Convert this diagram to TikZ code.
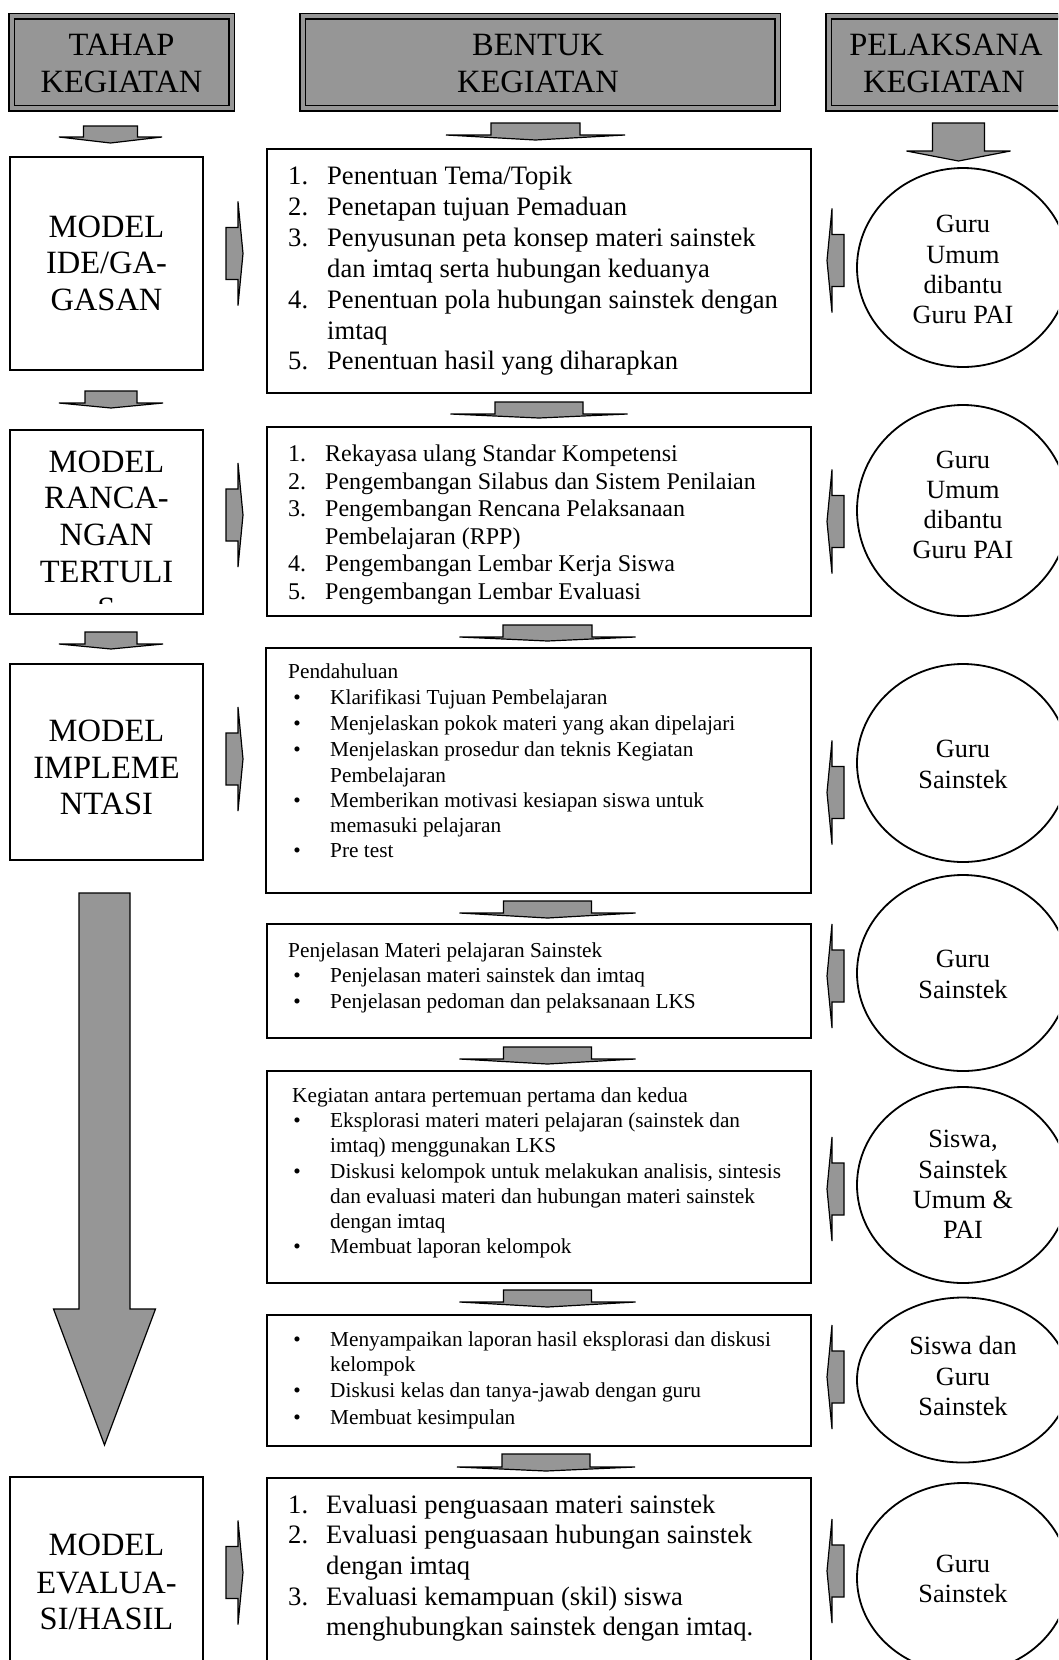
\documentclass[tikz,border=0pt]{standalone}
\usepackage{fontspec}
\setmainfont{Liberation Serif}
\usetikzlibrary{shapes.geometric}
\definecolor{fillgray}{RGB}{150,150,150}

\begin{document}
\begin{tikzpicture}[x=1pt,y=-1pt,
box/.style={draw,line width=1.6pt,inner sep=0pt},
head/.style={draw,line width=1.5pt,double=fillgray,double distance=4pt,fill=fillgray,inner sep=0pt},
circ/.style={draw,line width=1.8pt,ellipse,inner sep=0pt,minimum width=212pt},
ln/.style={anchor=base west,inner sep=0pt},
mid/.style={anchor=base,inner sep=0pt},
hfont/.style={font=\fontsize{32.5}{37}\selectfont},
afont/.style={font=\fontsize{26.6}{30}\selectfont},
bfont/.style={font=\fontsize{24}{27}\selectfont},
cfont/.style={font=\fontsize{21.3}{25}\selectfont},
rfont/.style={font=\fontsize{26.3}{30}\selectfont},
blk/.style={draw,line width=1.2pt,fill=fillgray},
pics/darr/.style args={#1/#2/#3/#4}{code={
\draw[blk] (-#1,0) -- (#1,0) -- (#1,#2) -- (#3,#2) -- (0,#2+#4) -- (-#3,#2) -- (-#1,#2) -- cycle;}},
pics/rarr/.style={code={
\draw[blk] (-12,-26) -- (0,-26) -- (0,-52) -- (5,0) -- (0,52) -- (0,26) -- (-12,26) -- cycle;}}]
\useasboundingbox (0,0) rectangle (1058,1660);
\clip (0,0) rectangle (1058,1660);

\node[head,minimum width=220pt,minimum height=92pt] (h1) at (121.5,62.2) {};
\node[head,minimum width=475pt,minimum height=92pt] (h2) at (540,62.2) {};
\node[head,minimum width=262pt,minimum height=92pt] (h3) at (959.5,62.2) {};
\node[mid,hfont] (h1a) at (121.5,55) {TAHAP};
\node[mid,hfont] (h1b) at (121.5,92) {KEGIATAN};
\node[mid,hfont] (h2a) at (538,55) {BENTUK};
\node[mid,hfont] (h2b) at (538,92) {KEGIATAN};
\node[mid,hfont] (h3a) at (946,55) {PELAKSANA};
\node[mid,hfont] (h3b) at (944,92) {KEGIATAN};

\pic at (110.5,126) {darr={27/11/51.5/6}};
\pic at (535.5,123) {darr={44.5/12/89.5/5}};
\pic at (958.5,123) {darr={26/28/52/10}};

\node[box,minimum width=193pt,minimum height=213pt] (m1) at (106.5,263.5) {};
\node[box,minimum width=193pt,minimum height=184pt] (m2) at (106.5,522) {};
\node[box,minimum width=193pt,minimum height=196pt] (m3) at (106.5,762) {};
\node[box,minimum width=193pt,minimum height=240pt] (m4) at (106.5,1597) {};
\foreach \y/\t [count=\i] in {237/MODEL,273/{IDE/GA-},310/GASAN}
  \node[mid,hfont] (m1t\i) at (106.5,\y) {\t};
\begin{scope}
\clip (10,432) rectangle (203,603);
\foreach \y/\t [count=\i] in {472/MODEL,508/RANCA-,545/NGAN,582/TERTULI,619/S}
  \node[mid,hfont] (m2t\i) at (106.5,\y) {\t};
\end{scope}
\foreach \y/\t [count=\i] in {741/MODEL,778/IMPLEME,814/NTASI}
  \node[mid,hfont] (m3t\i) at (106.5,\y) {\t};
\foreach \y/\t [count=\i] in {1555/MODEL,1593/EVALUA-,1629/{SI/HASIL}}
  \node[mid,hfont] (m4t\i) at (106.5,\y) {\t};

\pic at (111,391) {darr={26/12/52/5}};
\pic at (111,632) {darr={26/12/52/5}};
\pic at (104.5,893) {darr={25.5/416/51/136}};

\pic at (238,253.5) {rarr};
\pic at (238,515) {rarr};
\pic at (238,759) {rarr};
\pic at (238,1572.5) {rarr};

\node[box,minimum width=544pt,minimum height=244pt] (b1) at (539,271) {};
\node[box,minimum width=544pt,minimum height=189pt] (b2) at (539,521.5) {};
\node[box,minimum width=545pt,minimum height=245pt] (b3) at (538.5,770.5) {};
\node[box,minimum width=544pt,minimum height=114pt] (b4) at (539,981) {};
\node[box,minimum width=544pt,minimum height=212pt] (b5) at (539,1177) {};
\node[box,minimum width=544pt,minimum height=131pt] (b6) at (539,1380.5) {};
\node[box,minimum width=544pt,minimum height=240pt] (b7) at (539,1598) {};

\pic at (539,402) {darr={44/12/88.5/4}};
\pic at (547.5,625) {darr={44.5/12/88/4}};
\pic at (547.5,901) {darr={44/12/88/5}};
\pic at (547.5,1047) {darr={44/12/88/5}};
\pic at (547.5,1290) {darr={44/12/88/5}};
\pic at (546,1454) {darr={44/13/89/4}};

\foreach \y/\n [count=\i] in {184/1,215/2,246/3,308/4,369.5/5}
  \node[ln,afont] (b1n\i) at (288,\y) {\n.};
\foreach \y/\t [count=\i] in {184/{Penentuan Tema/Topik},215/{Penetapan tujuan Pemaduan},
  246/{Penyusunan peta konsep materi sainstek},277/{dan imtaq serta hubungan keduanya},
  308/{Penentuan pola hubungan sainstek dengan},339/{imtaq},369.5/{Penentuan hasil yang diharapkan}}
  \node[ln,afont] (b1t\i) at (327,\y) {\t};

\foreach \y/\n [count=\i] in {461.5/1,489/2,516.5/3,571.5/4,599/5}
  \node[ln,bfont] (b2n\i) at (288,\y) {\n.};
\foreach \y/\t [count=\i] in {461.5/{Rekayasa ulang Standar Kompetensi},489/{Pengembangan Silabus dan Sistem Penilaian},
  516.5/{Pengembangan Rencana Pelaksanaan},544/{Pembelajaran (RPP)},
  571.5/{Pengembangan Lembar Kerja Siswa},599/{Pengembangan Lembar Evaluasi}}
  \node[ln,bfont] (b2t\i) at (325,\y) {\t};

\node[ln,cfont] (b3h) at (288,678) {Pendahuluan};
\foreach \y [count=\i] in {704,730,756,807,857}
  \node[mid,cfont] (b3d\i) at (297,\y) {•};
\foreach \y/\t [count=\i] in {704/{Klarifikasi Tujuan Pembelajaran},730/{Menjelaskan pokok materi yang akan dipelajari},
  756/{Menjelaskan prosedur dan teknis Kegiatan},782/{Pembelajaran},
  807/{Memberikan motivasi kesiapan siswa untuk},832/{memasuki pelajaran},857/{Pre test}}
  \node[ln,cfont] (b3t\i) at (330,\y) {\t};

\node[ln,cfont] (b4h) at (288,957) {Penjelasan Materi pelajaran Sainstek};
\foreach \y/\t [count=\i] in {982/{Penjelasan materi sainstek dan imtaq},1008/{Penjelasan pedoman dan pelaksanaan LKS}}{
  \node[mid,cfont] (b4d\i) at (297,\y) {•};
  \node[ln,cfont] (b4t\i) at (330,\y) {\t};}

\node[ln,cfont] (b5h) at (292,1102) {Kegiatan antara pertemuan pertama dan kedua};
\foreach \y [count=\i] in {1127,1178,1253}
  \node[mid,cfont] (b5d\i) at (297,\y) {•};
\foreach \y/\t [count=\i] in {1127/{Eksplorasi materi materi pelajaran (sainstek dan},1152/{imtaq) menggunakan LKS},
  1178/{Diskusi kelompok untuk melakukan analisis, sintesis},1203/{dan evaluasi materi dan hubungan materi sainstek},
  1228/{dengan imtaq},1253/{Membuat laporan kelompok}}
  \node[ln,cfont] (b5t\i) at (330,\y) {\t};

\foreach \y [count=\i] in {1346,1397,1424}
  \node[mid,cfont] (b6d\i) at (297,\y) {•};
\foreach \y/\t [count=\i] in {1346/{Menyampaikan laporan hasil eksplorasi dan diskusi},1371/{kelompok},
  1397/{Diskusi kelas dan tanya-jawab dengan guru},1424/{Membuat kesimpulan}}
  \node[ln,cfont] (b6t\i) at (330,\y) {\t};

\foreach \y/\n [count=\i] in {1513/1,1543.7/2,1605/3}
  \node[ln,afont] (b7n\i) at (288,\y) {\n.};
\foreach \y/\t [count=\i] in {1513/{Evaluasi penguasaan materi sainstek},1543.7/{Evaluasi penguasaan hubungan sainstek},
  1574.4/{dengan imtaq},1605/{Evaluasi kemampuan (skil) siswa},1635.8/{menghubungkan sainstek dengan imtaq.}}
  \node[ln,afont] (b7t\i) at (326,\y) {\t};

\pic[xscale=-1] at (832,260.5) {rarr};
\pic[xscale=-1] at (832,521.5) {rarr};
\pic[xscale=-1] at (832,792.5) {rarr};
\pic[xscale=-1] at (832,976) {rarr};
\pic[xscale=-1] at (832,1189) {rarr};
\pic[xscale=-1] at (832,1377) {rarr};
\pic[xscale=-1] at (832,1571) {rarr};

\node[circ,minimum height=199pt] (c1) at (963,267.5) {};
\node[circ,minimum height=211pt] (c2) at (963,510.5) {};
\node[circ,minimum height=198pt] (c3) at (963,763) {};
\node[circ,minimum height=196pt] (c4) at (963,973) {};
\node[circ,minimum height=196pt] (c5) at (963,1185) {};
\node[circ,minimum height=165pt] (c6) at (963,1380) {};
\node[circ,minimum height=190pt] (c7) at (963,1578) {};
\foreach \y/\t [count=\i] in {232/Guru,263/Umum,293/dibantu,323/Guru PAI}
  \node[mid,rfont] (c1t\i) at (963,\y) {\t};
\foreach \y/\t [count=\i] in {468/Guru,498/Umum,528/dibantu,558/Guru PAI}
  \node[mid,rfont] (c2t\i) at (963,\y) {\t};
\foreach \y/\t [count=\i] in {757/Guru,788/Sainstek}
  \node[mid,rfont] (c3t\i) at (963,\y) {\t};
\foreach \y/\t [count=\i] in {967/Guru,998/Sainstek}
  \node[mid,rfont] (c4t\i) at (963,\y) {\t};
\foreach \y/\t [count=\i] in {1147/{Siswa,},1178/Sainstek,1208/{Umum \&},1238/PAI}
  \node[mid,rfont] (c5t\i) at (963,\y) {\t};
\foreach \y/\t [count=\i] in {1354/Siswa dan,1385/Guru,1415/Sainstek}
  \node[mid,rfont] (c6t\i) at (963,\y) {\t};
\foreach \y/\t [count=\i] in {1572.5/Guru,1602.5/Sainstek}
  \node[mid,rfont] (c7t\i) at (963,\y) {\t};
\end{tikzpicture}
\end{document}
